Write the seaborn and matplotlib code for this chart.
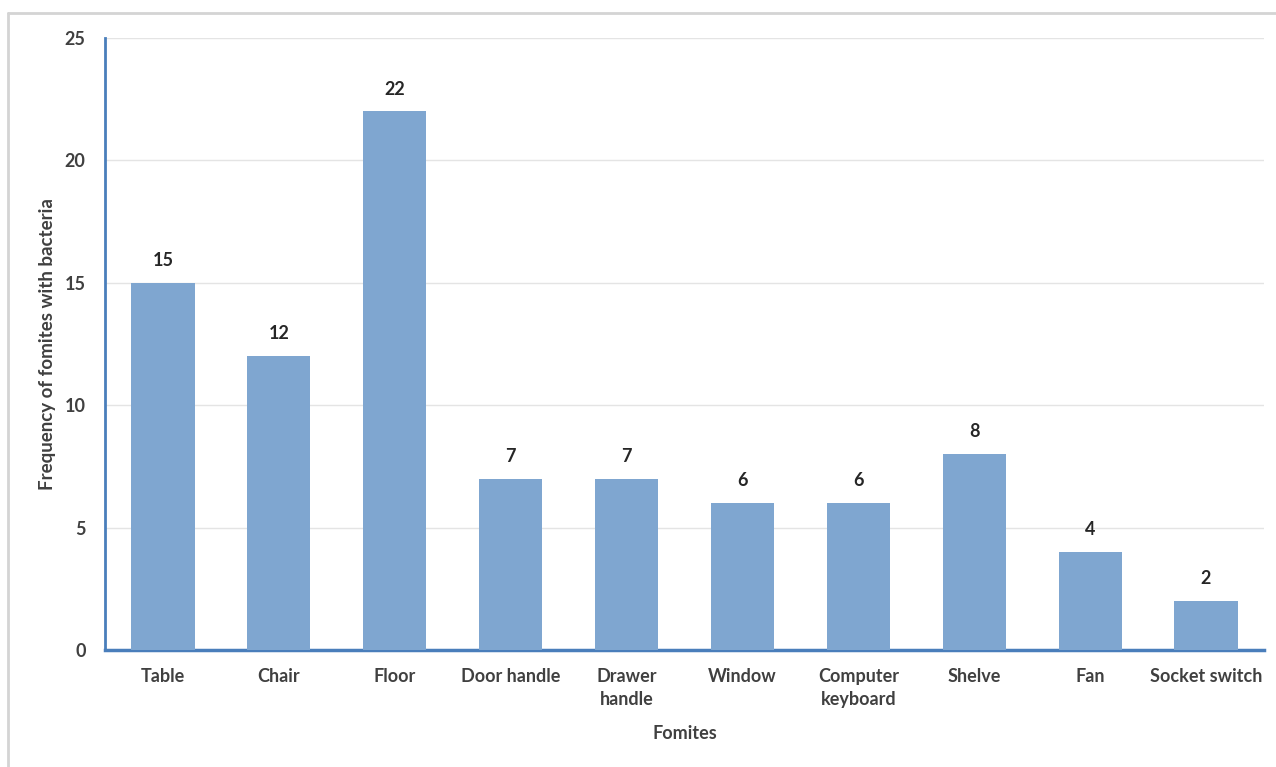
import matplotlib
matplotlib.use("Agg")
import matplotlib.pyplot as plt
import seaborn as sns
import pandas as pd
from matplotlib.lines import Line2D

categories = ["Table", "Chair", "Floor", "Door handle", "Drawer\nhandle", "Window",
              "Computer\nkeyboard", "Shelve", "Fan", "Socket switch"]
values = [15, 12, 22, 7, 7, 6, 6, 8, 4, 2]
y_ticks = [0, 5, 10, 15, 20, 25]

sns.set_theme(style="white")
plt.rcParams['font.family'] = ['Lato', 'DejaVu Sans']

df = pd.DataFrame({"Fomites": categories, "Frequency": values})

fig = plt.figure(figsize=(12.76, 7.67), dpi=100)
ax = fig.add_axes([105/1276, 1-650/767, (1264-105)/1276, (650-38)/767])

bar_color = "#7FA6D0"
text_color = "#404040"
axis_color = "#4A7EBB"

sns.barplot(data=df, x="Fomites", y="Frequency", color=bar_color, width=0.545,
            saturation=1, linewidth=0, ax=ax, zorder=3)

ax.set_ylim(0, 25)
ax.set_xlim(-0.5, len(categories) - 0.5)
ax.set_yticks(y_ticks)
ax.yaxis.grid(True, color="#E4E4E4", linewidth=1, zorder=0)
ax.xaxis.grid(False)

for s in ["top", "right"]:
    ax.spines[s].set_visible(False)
ax.spines["left"].set_color(axis_color)
ax.spines["left"].set_linewidth(2)
ax.spines["bottom"].set_color(axis_color)
ax.spines["bottom"].set_linewidth(2.5)

ax.tick_params(axis="both", length=0, colors=text_color, labelsize=13)
ax.tick_params(axis="y", pad=14)
ax.tick_params(axis="x", pad=13)
for lbl in ax.get_xticklabels() + ax.get_yticklabels():
    lbl.set_fontweight("bold")
    lbl.set_color(text_color)
for lbl in ax.get_xticklabels():
    lbl.set_linespacing(1.45)

for i, v in enumerate(values):
    ax.annotate(str(v), (i, v), xytext=(0, 10), textcoords="offset points",
                ha="center", va="bottom", fontsize=13, fontweight="bold", color="#262626")

ax.set_xlabel("Fomites", fontsize=13, fontweight="bold", color=text_color, labelpad=12)
ax.set_ylabel("Frequency of fomites with bacteria", fontsize=13.5, fontweight="bold",
              color=text_color, labelpad=6)

# Frame lines (top and left) like the reference
fig.add_artist(Line2D([8/1276, 1], [1-13/767, 1-13/767], transform=fig.transFigure,
                      color="#D4D4D4", linewidth=2))
fig.add_artist(Line2D([8/1276, 8/1276], [0, 1-13/767], transform=fig.transFigure,
                      color="#D4D4D4", linewidth=2))

fig.savefig("out.png", dpi=100)
